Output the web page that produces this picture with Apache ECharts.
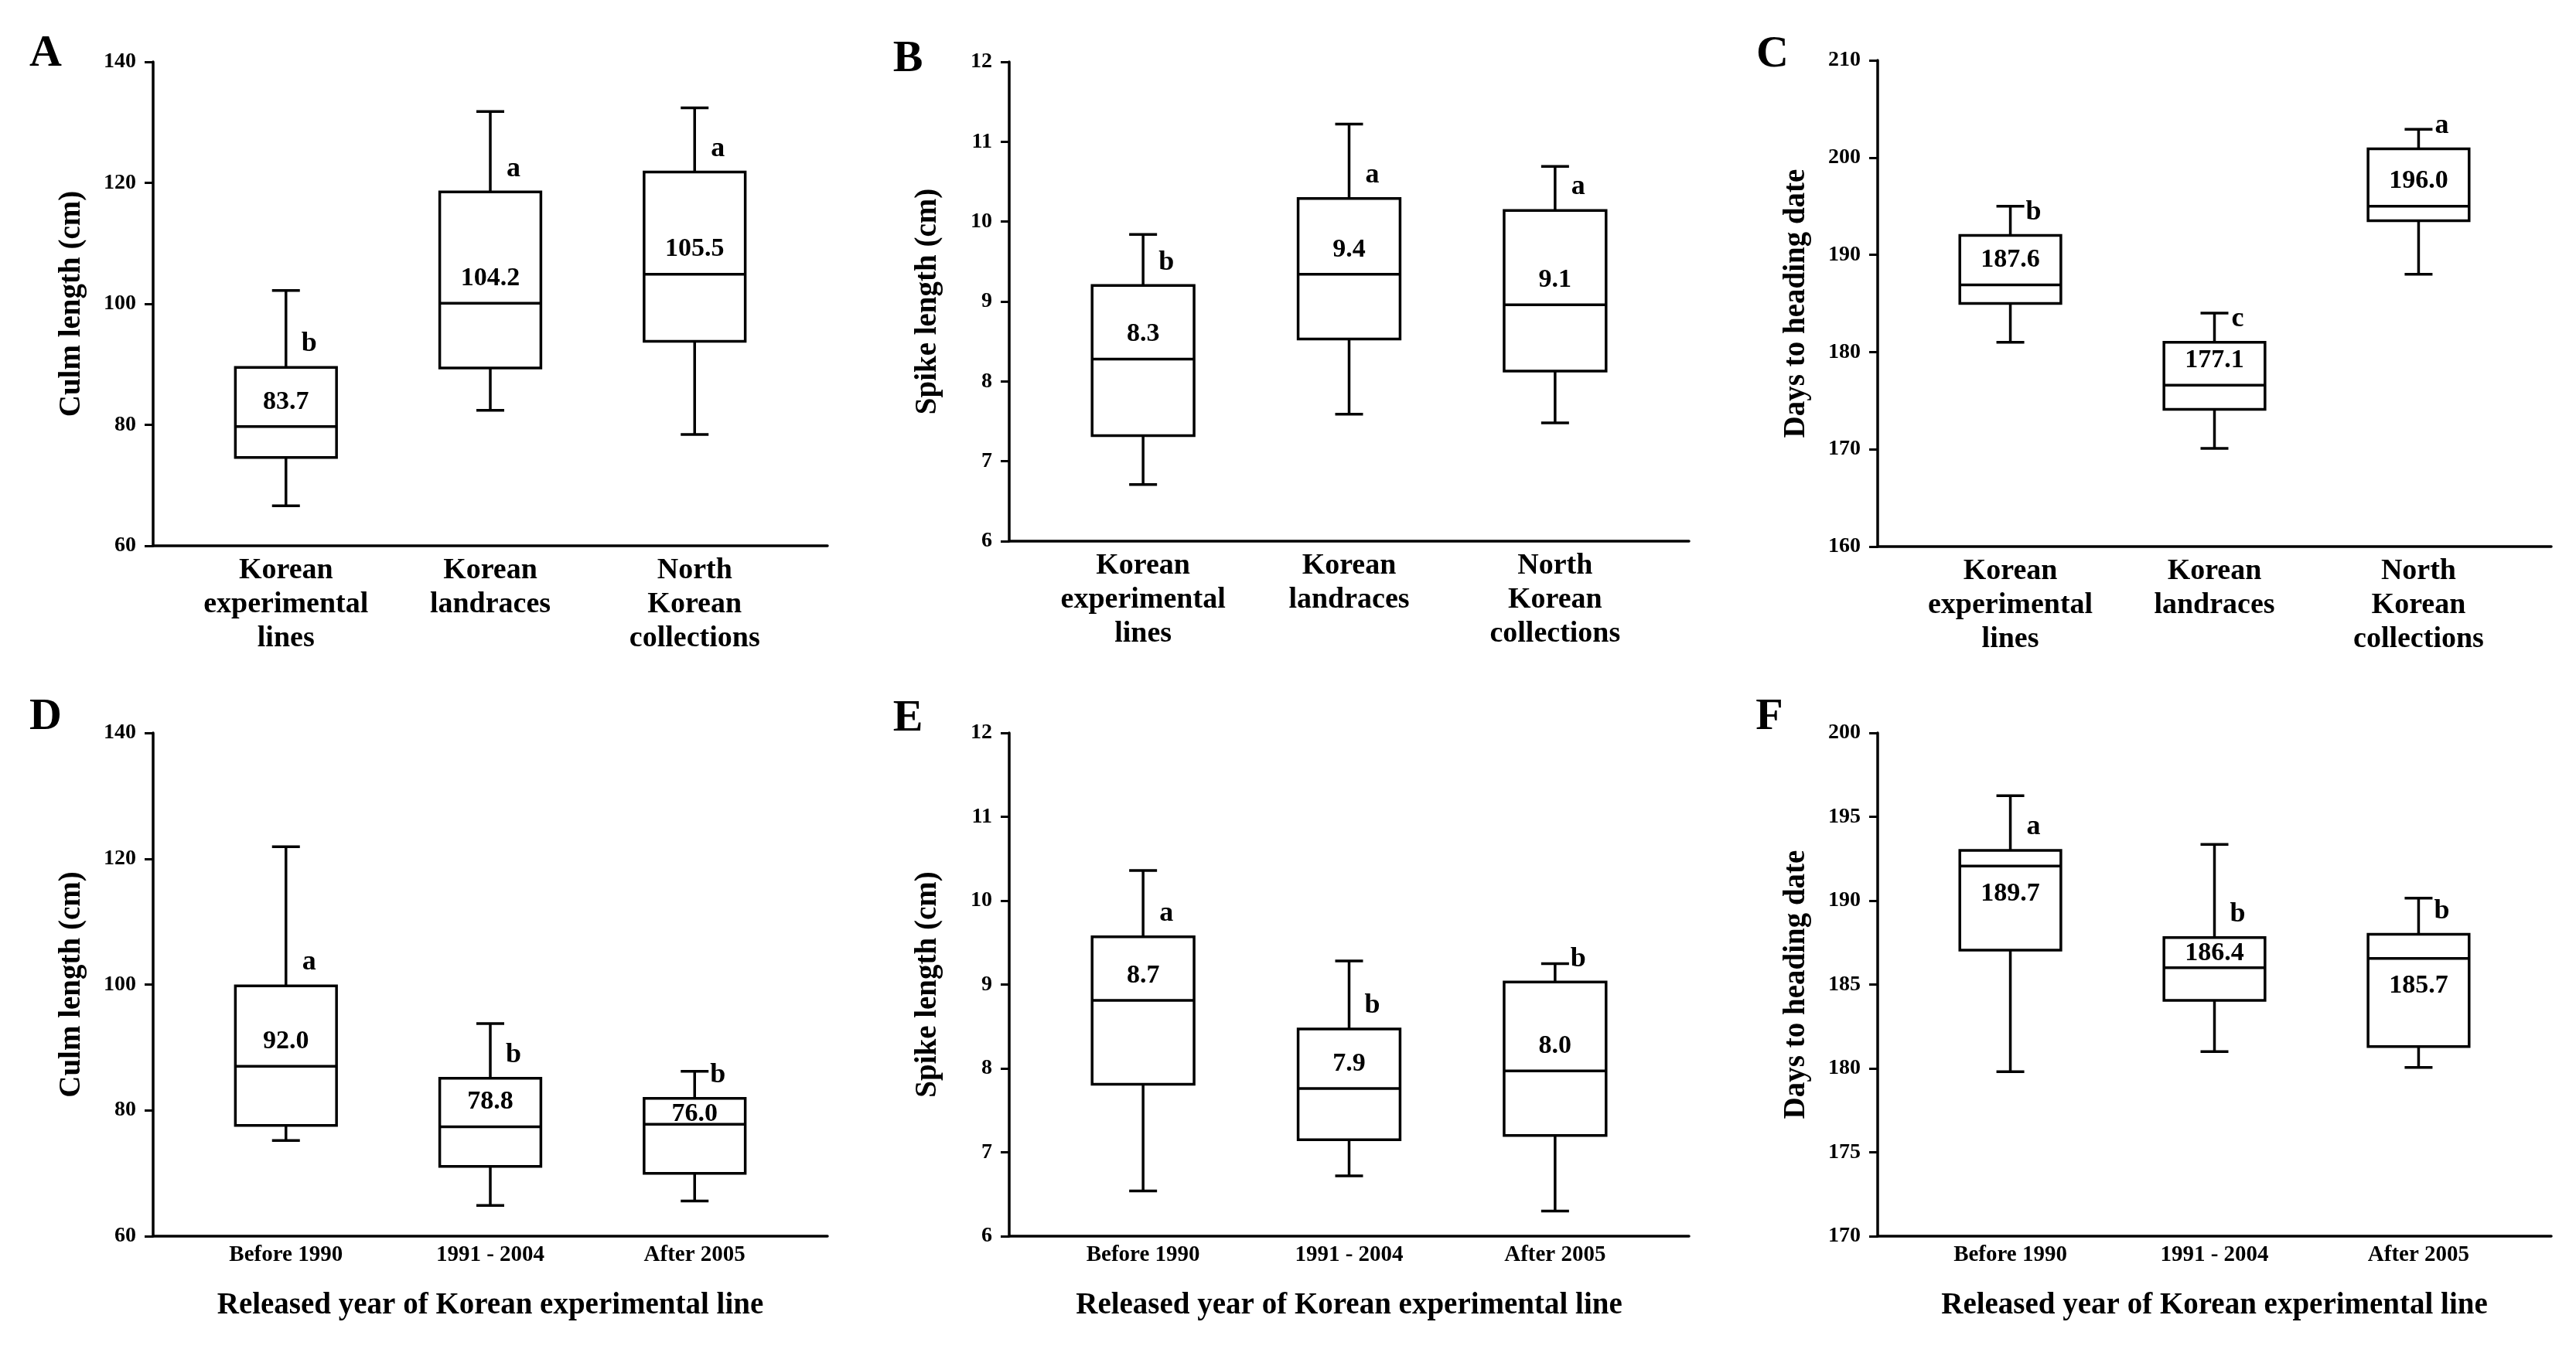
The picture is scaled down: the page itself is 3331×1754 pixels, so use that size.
<!DOCTYPE html>
<html>
<head>
<meta charset="utf-8">
<script src="https://cdn.jsdelivr.net/npm/echarts@6.0.0/dist/echarts.min.js"></script>
<style>
  html, body { margin: 0; padding: 0; background: #fff; }
  #chart { width: 3331px; height: 1754px; }
</style>
</head>
<body>
<div id="chart"></div>
<script>
// group names on the x axis
const typeGroups = ['Korean\nexperimental\nlines', 'Korean\nlandraces', 'North\nKorean\ncollections'];
const yearGroups = ['Before 1990', '1991 - 2004', 'After 2005'];

// box values: [lower whisker, Q1, median, Q3, upper whisker]
const culmByType = [[66.6, 74.6, 79.7, 89.5, 102.2], [82.4, 89.4, 100.1, 118.5, 131.8], [78.4, 93.8, 104.9, 121.8, 132.4]];
const culmByTypeMean = [83.7, 104.2, 105.5];
const culmByTypeSig = ['b', 'a', 'a'];

const spikeByType = [[6.71, 7.32, 8.28, 9.20, 9.84], [7.59, 8.53, 9.34, 10.29, 11.22], [7.48, 8.13, 8.96, 10.14, 10.69]];
const spikeByTypeMean = [8.3, 9.4, 9.1];
const spikeByTypeSig = ['b', 'a', 'a'];

const headingByType = [[181.0, 185.0, 186.9, 192.0, 195.0], [170.1, 174.1, 176.6, 181.0, 184.0], [188.0, 193.5, 195.0, 200.9, 202.9]];
const headingByTypeMean = [187.6, 177.1, 196.0];
const headingByTypeSig = ['b', 'c', 'a'];

const culmByYear = [[75.2, 77.6, 87.0, 99.8, 121.9], [64.9, 71.1, 77.4, 85.1, 93.8], [65.6, 70.0, 77.8, 81.9, 86.2]];
const culmByYearMean = [92.0, 78.8, 76.0];
const culmByYearSig = ['a', 'b', 'b'];

const spikeByYear = [[6.54, 7.81, 8.81, 9.57, 10.36], [6.72, 7.15, 7.76, 8.47, 9.28], [6.30, 7.20, 7.97, 9.03, 9.25]];
const spikeByYearMean = [8.7, 7.9, 8.0];
const spikeByYearSig = ['a', 'b', 'b'];

const headingByYear = [[179.8, 187.05, 192.06, 193.0, 196.26], [181.0, 184.06, 186.0, 187.8, 193.35], [180.06, 181.3, 186.56, 188.0, 190.15]];
const headingByYearMean = [189.7, 186.4, 185.7];
const headingByYearSig = ['a', 'b', 'b'];

// y axis ranges: [min, max, interval]
const culmRange = [60, 140, 20];
const spikeRange = [6, 12, 1];
const headingTypeRange = [160, 210, 10];
const headingYearRange = [170, 200, 5];

const FONT = "'Liberation Serif', 'Times New Roman', serif";
const LW = 3.5;

const panels = [
  { tag: 'A', box: culmByType, mean: culmByTypeMean, sig: culmByTypeSig, cats: typeGroups, range: culmRange, yName: 'Culm length (cm)', grid: [198, 80, 872, 626], tagPos: [59, 70] },
  { tag: 'B', box: spikeByType, mean: spikeByTypeMean, sig: spikeByTypeSig, cats: typeGroups, range: spikeRange, yName: 'Spike length (cm)', grid: [1305, 80, 879, 620], tagPos: [1174, 77] },
  { tag: 'C', box: headingByType, mean: headingByTypeMean, sig: headingByTypeSig, cats: typeGroups, range: headingTypeRange, yName: 'Days to heading date', grid: [2428, 78, 871, 629], tagPos: [2292, 71] },
  { tag: 'D', box: culmByYear, mean: culmByYearMean, sig: culmByYearSig, cats: yearGroups, range: culmRange, yName: 'Culm length (cm)', grid: [198, 948, 872, 651], tagPos: [59, 928] },
  { tag: 'E', box: spikeByYear, mean: spikeByYearMean, sig: spikeByYearSig, cats: yearGroups, range: spikeRange, yName: 'Spike length (cm)', grid: [1305, 948, 879, 651], tagPos: [1174, 930] },
  { tag: 'F', box: headingByYear, mean: headingByYearMean, sig: headingByYearSig, cats: yearGroups, range: headingYearRange, yName: 'Days to heading date', grid: [2428, 948, 871, 651], tagPos: [2288, 928] }
];

function txt(text, x, y, size) {
  return {
    type: 'text', x: x, y: y,
    style: { text: text, fill: '#000', fontSize: size, fontWeight: 'bold', fontFamily: FONT, align: 'center', verticalAlign: 'middle' }
  };
}

function seg(x1, y1, x2, y2) {
  return { type: 'line', shape: { x1: x1, y1: y1, x2: x2, y2: y2 }, style: { stroke: '#000', lineWidth: LW } };
}

function boxRenderer(means, sigs) {
  return function (params, api) {
    const x = api.value(0);
    const lo = api.coord([x, api.value(1)]);
    const cx = lo[0];
    const loY = lo[1];
    const q1Y = api.coord([x, api.value(2)])[1];
    const medY = api.coord([x, api.value(3)])[1];
    const q3Y = api.coord([x, api.value(4)])[1];
    const hiY = api.coord([x, api.value(5)])[1];
    const bw = api.size([0.495, 0])[0];
    const cap = 18;

    // mean label sits above the median unless there is no room
    let my;
    if (medY - q3Y >= 32) my = Math.max(medY - 32, q3Y + 20);
    else my = medY + 36;

    return {
      type: 'group',
      children: [
        seg(cx, q3Y, cx, hiY),
        seg(cx - cap, hiY, cx + cap, hiY),
        seg(cx, q1Y, cx, loY),
        seg(cx - cap, loY, cx + cap, loY),
        {
          type: 'rect',
          shape: { x: cx - bw / 2, y: q3Y, width: bw, height: q1Y - q3Y },
          style: { fill: '#fff', stroke: '#000', lineWidth: LW }
        },
        seg(cx - bw / 2, medY, cx + bw / 2, medY),
        txt(means[params.dataIndex].toFixed(1), cx, my, 34),
        txt(sigs[params.dataIndex], cx + 30, q3Y - 30, 36)
      ]
    };
  };
}

const grids = [], xAxes = [], yAxes = [], series = [], tags = [];

panels.forEach(function (p, i) {
  const bottomRow = i >= 3;
  grids.push({ left: p.grid[0], top: p.grid[1], width: p.grid[2], height: p.grid[3] });
  xAxes.push({
    gridIndex: i,
    type: 'value',
    min: 0.35,
    max: 3.65,
    name: bottomRow ? 'Released year of Korean experimental line' : '',
    nameLocation: 'middle',
    nameGap: 70,
    nameTextStyle: { color: '#000', fontSize: 39, fontWeight: 'bold', fontFamily: FONT },
    axisLine: { show: true, onZero: false, lineStyle: { color: '#000', width: LW } },
    axisTick: { show: false },
    splitLine: { show: false },
    axisLabel: {
      customValues: [1, 2, 3],
      formatter: function (v) { return p.cats[Math.round(v) - 1] || ''; },
      color: '#000',
      fontFamily: FONT,
      fontWeight: 'bold',
      fontSize: bottomRow ? 29 : 38,
      lineHeight: bottomRow ? 30 : 44,
      margin: 10
    }
  });
  yAxes.push({
    gridIndex: i,
    type: 'value',
    min: p.range[0],
    max: p.range[1],
    interval: p.range[2],
    name: p.yName,
    nameLocation: 'middle',
    nameGap: 86,
    nameTextStyle: { color: '#000', fontSize: 39, fontWeight: 'bold', fontFamily: FONT },
    axisLine: { show: true, onZero: false, lineStyle: { color: '#000', width: LW } },
    axisTick: { show: true, length: 11, lineStyle: { color: '#000', width: 3 } },
    splitLine: { show: false },
    axisLabel: { color: '#000', fontFamily: FONT, fontWeight: 'bold', fontSize: 28, margin: 22 }
  });
  series.push({
    type: 'custom',
    xAxisIndex: i,
    yAxisIndex: i,
    renderItem: boxRenderer(p.mean, p.sig),
    data: p.box.map(function (b, k) { return [k + 1].concat(b); }),
    clip: false
  });
  tags.push({
    type: 'text', x: p.tagPos[0], y: p.tagPos[1],
    style: { text: p.tag, fill: '#000', fontSize: 58, fontWeight: 'bold', fontFamily: FONT, align: 'center', verticalAlign: 'middle' }
  });
});

const chart = echarts.init(document.getElementById('chart'), null, { renderer: 'canvas' });
chart.setOption({
  backgroundColor: '#fff',
  animation: false,
  grid: grids,
  xAxis: xAxes,
  yAxis: yAxes,
  series: series,
  graphic: tags
});
</script>
</body>
</html>
